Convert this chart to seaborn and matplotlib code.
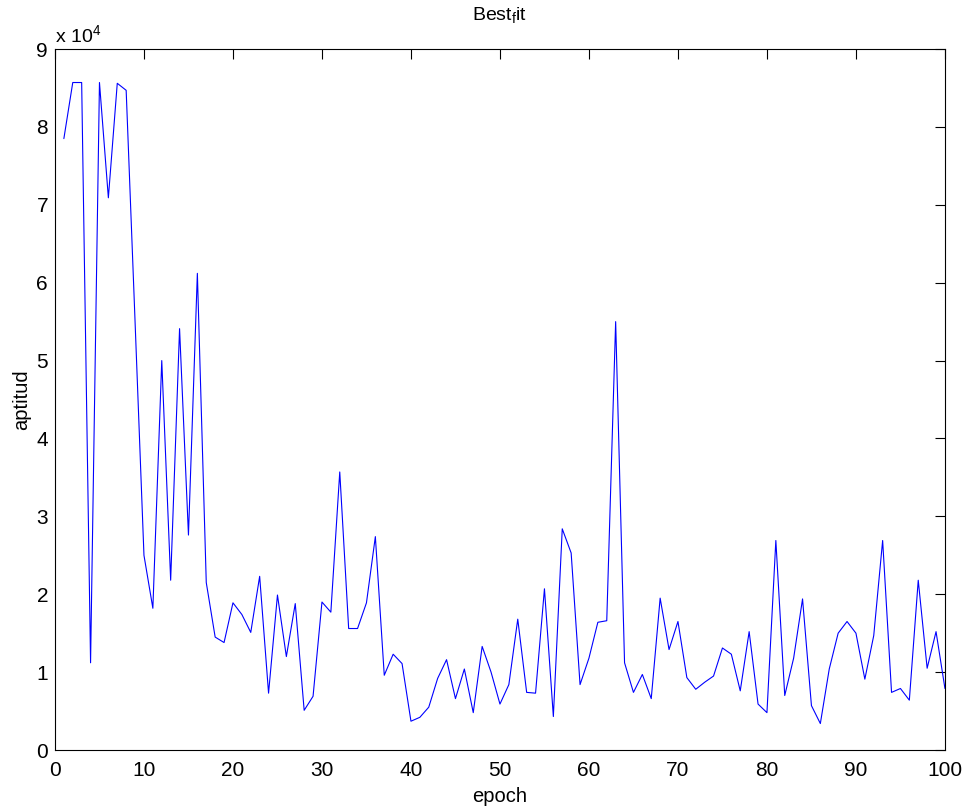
import matplotlib
matplotlib.use("Agg")
import matplotlib.pyplot as plt
import seaborn as sns
import numpy as np
import pandas as pd
from matplotlib.ticker import FuncFormatter, MultipleLocator

epoch = list(range(1, 101))
aptitud = [
    78500, 85700, 85700, 11200, 85700, 70900, 85600, 84700, 55000, 25000,
    18200, 50000, 21800, 54100, 27600, 61200, 21500, 14500, 13800, 18900,
    17400, 15100, 22300, 7300, 19900, 12000, 18800, 5100, 6900, 19000,
    17700, 35700, 15600, 15600, 18900, 27400, 9600, 12300, 11100, 3700,
    4200, 5500, 9200, 11600, 6600, 10400, 4800, 13300, 10000, 5900,
    8400, 16800, 7400, 7300, 20700, 4300, 28400, 25300, 8400, 11800,
    16400, 16600, 55000, 11200, 7400, 9700, 6600, 19500, 12900, 16500,
    9300, 7800, 8700, 9500, 13100, 12300, 7600, 15200, 5900, 4800,
    26900, 7000, 11800, 19400, 5700, 3400, 10400, 15000, 16500, 15000,
    9100, 14700, 26900, 7400, 7900, 6400, 21800, 10500, 15200, 7900,
]

df = pd.DataFrame({"epoch": epoch, "aptitud": aptitud})

sns.set_style("white")
plt.rcParams["font.family"] = ["Liberation Sans", "DejaVu Sans"]
plt.rcParams["mathtext.fontset"] = "custom"
plt.rcParams["mathtext.rm"] = "Liberation Sans"
plt.rcParams["mathtext.it"] = "Liberation Sans"
plt.rcParams["text.color"] = "black"
plt.rcParams["axes.labelcolor"] = "black"

fig = plt.figure(figsize=(9.66, 8.09), dpi=100)
ax = fig.add_axes([0.0569, 0.0729, 0.9213, 0.8665])

sns.lineplot(data=df, x="epoch", y="aptitud", ax=ax, color="#0000ff",
             linewidth=0.8, estimator=None)

ax.set_xlim(0, 100)
ax.set_ylim(0, 90000)
ax.xaxis.set_major_locator(MultipleLocator(10))
ax.yaxis.set_major_locator(MultipleLocator(10000))
ax.yaxis.set_major_formatter(FuncFormatter(lambda v, p: f"{int(round(v / 1e4))}"))

for s in ax.spines.values():
    s.set_color("black")
    s.set_linewidth(0.8)

ax.tick_params(axis="both", which="major", direction="in", length=7,
               width=0.8, labelsize=15, top=True, right=True,
               colors="black")
ax.tick_params(axis="x", pad=8)
ax.tick_params(axis="y", pad=5)

ax.set_xlabel("epoch", fontsize=14.5, labelpad=5, color="black")
ax.set_ylabel("aptitud", fontsize=14.5, labelpad=4, color="black")
ax.set_title(r"Best$_{\mathrm{f}}$it", fontsize=14, pad=21, color="black")

ax.text(0.0, 1.0 + 7 / 701, r"x 10$^{4}$", transform=ax.transAxes,
        fontsize=14, ha="left", va="baseline", color="black")

fig.savefig("out.png", dpi=100, facecolor="white")
